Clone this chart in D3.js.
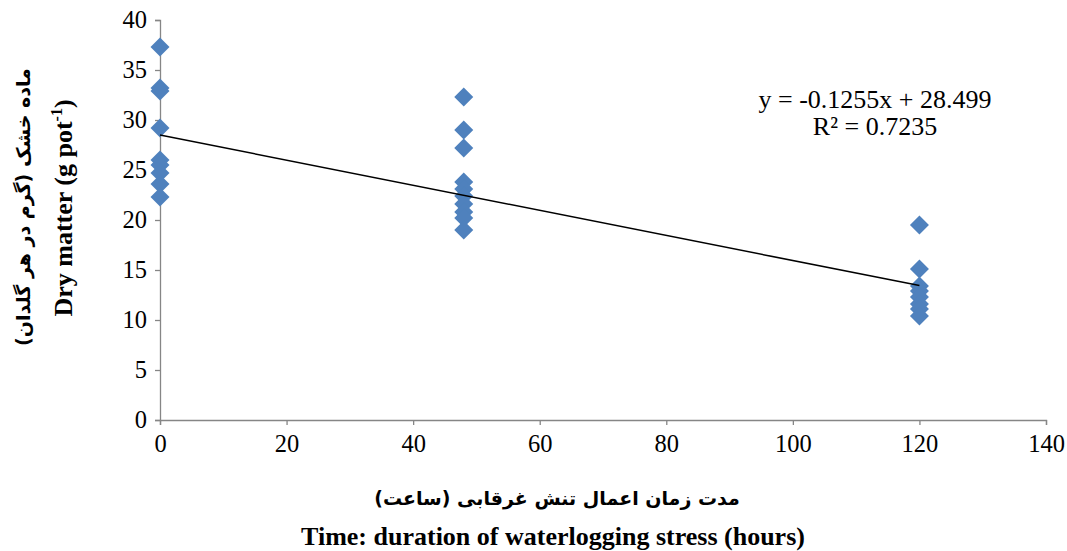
<!DOCTYPE html>
<html><head><meta charset="utf-8">
<script src="https://cdn.jsdelivr.net/npm/d3@7"></script>
<style>body{margin:0;background:#fff}svg{display:block}</style>
</head><body>
<svg id="c" width="1067" height="551"></svg>
<script>
const hours0 = [0,0,0,0,0,0,0,0,0];
const dry0 = [37.3,33.2,32.9,29.2,26.0,25.5,24.7,23.6,22.3];
const hours48 = [48,48,48,48,48,48,48,48,48,48];
const dry48 = [32.3,29.0,27.2,23.8,23.1,22.4,21.6,20.8,20.2,19.0];
const hours120 = [120,120,120,120,120,120,120,120];
const dry120 = [19.5,15.1,13.4,12.9,12.3,11.6,11.1,10.4];
const xTicks = [0,20,40,60,80,100,120,140];
const yTicks = [0,5,10,15,20,25,30,35,40];
const slope = -0.1255, intercept = 28.499;
const trendX = [0,120];
const eqText = "y = -0.1255x + 28.499";
const r2Text = "R² = 0.7235";

const svg = d3.select("#c");
const serif = "'Liberation Serif','Times New Roman',serif";
const arab = "'DejaVu Sans','Noto Sans',sans-serif";
const x = d3.scaleLinear().domain([0,140]).range([160,1046]);
const y = d3.scaleLinear().domain([0,40]).range([420,20]);
const axisCol = "#868686";

// y axis
const ya = svg.append("g").attr("transform","translate(160,0)")
  .call(d3.axisLeft(y).tickValues(yTicks).tickSize(5).tickPadding(8));
ya.select(".domain").attr("stroke",axisCol).attr("stroke-width",1.3);
ya.selectAll(".tick line").attr("stroke",axisCol).attr("stroke-width",1.3);
ya.selectAll("text").attr("font-family",serif).attr("font-size",24.5).attr("fill","#000");

// x axis
const xa = svg.append("g").attr("transform","translate(0,420)")
  .call(d3.axisBottom(x).tickValues(xTicks).tickSize(5).tickPadding(10));
xa.select(".domain").attr("stroke",axisCol).attr("stroke-width",1.3);
xa.selectAll(".tick line").attr("stroke",axisCol).attr("stroke-width",1.3);
xa.selectAll("text").attr("font-family",serif).attr("font-size",24.5).attr("fill","#000");

// points
const pts = [];
hours0.forEach((h,i)=>pts.push([h,dry0[i]]));
hours48.forEach((h,i)=>pts.push([h,dry48[i]]));
hours120.forEach((h,i)=>pts.push([h,dry120[i]]));
const s = 9.5;
svg.append("g").selectAll("path").data(pts).join("path")
  .attr("d",d=>{const cx=x(d[0]),cy=y(d[1]);return `M${cx},${cy-s}L${cx+s},${cy}L${cx},${cy+s}L${cx-s},${cy}Z`;})
  .attr("fill","#4F81BD");

// trend line
svg.append("line")
  .attr("x1",x(trendX[0])).attr("y1",y(intercept+slope*trendX[0]))
  .attr("x2",x(trendX[1])).attr("y2",y(intercept+slope*trendX[1]))
  .attr("stroke","#000").attr("stroke-width",1.5);

// equation
svg.append("text").attr("x",875).attr("y",108).attr("text-anchor","middle")
  .attr("font-family",serif).attr("font-size",26).text(eqText);
svg.append("text").attr("x",875).attr("y",135).attr("text-anchor","middle")
  .attr("font-family",serif).attr("font-size",26).text(r2Text);

// x labels
svg.append("text").attr("x",557).attr("y",505).attr("text-anchor","middle")
  .attr("font-family",arab).attr("font-weight","bold").attr("font-size",19)
  .attr("direction","rtl").text("مدت زمان اعمال تنش غرقابی (ساعت)");
svg.append("text").attr("x",553).attr("y",545).attr("text-anchor","middle")
  .attr("font-family",serif).attr("font-weight","bold").attr("font-size",26)
  .text("Time: duration of waterlogging stress (hours)");

// y labels
svg.append("text").attr("transform","translate(30,207) rotate(-90)").attr("text-anchor","middle")
  .attr("font-family",arab).attr("font-weight","bold").attr("font-size",19)
  .attr("direction","rtl").text("ماده خشک (گرم در هر گلدان)");
const yl = svg.append("text").attr("transform","translate(72,208) rotate(-90)").attr("text-anchor","middle")
  .attr("font-family",serif).attr("font-weight","bold").attr("font-size",26);
yl.append("tspan").text("Dry matter (g pot");
yl.append("tspan").attr("font-size",16).attr("dy",-10).text("-1");
yl.append("tspan").attr("dy",10).text(")");
</script>
</body></html>
